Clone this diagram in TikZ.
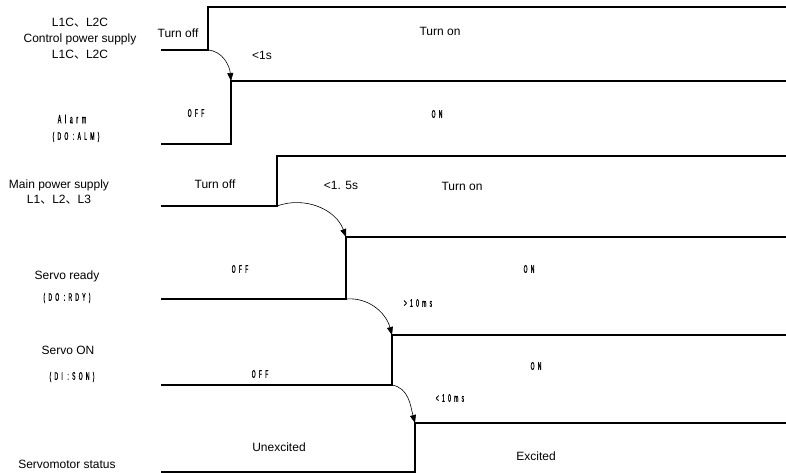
\documentclass[tikz,border=0pt]{standalone}
\usepackage{fontspec}
\setmainfont{Liberation Sans}
\newfontfamily\cjkfont{Noto Sans CJK SC}
\newfontfamily\narrowfont[FakeStretch=0.45,FakeBold=1,LetterSpace=30]{Liberation Sans}
\newcommand{\ideocomma}{{\cjkfont 、}}
\usepackage{tikz}
\usetikzlibrary{
	arrows.meta,
	positioning
}

\begin{document}
\begin{tikzpicture}[
		x=1pt, y=1pt,
		>={Triangle[length=8pt,width=6pt]},
		signal/.style={
			line width=1.8pt
		},
		delay/.style={
			->,
			line width=0.6pt
		},
		signame/.style={
			font=\fontsize{12}{16}\selectfont,
			align=center,
			inner sep=0pt
		},
		sigstate/.style={
			font=\narrowfont\fontsize{11}{12}\selectfont,
			inner sep=0pt
		}
		]
		
		\useasboundingbox (0,0) rectangle (786,-473);
		
		% Waveforms: name/low/high/edge
		\foreach \n/\lo/\hi/\e in {ctrl/50/7/208, alm/144/81/231, main/206/156/277,
			rdy/299/237/346, son/385/335/392, mot/472/423/415}
		{
			\coordinate (\n-lo) at (\e,-\lo);
			\coordinate (\n-hi) at (\e,-\hi);
			\coordinate (\n-start) at (161,-\lo);
			\coordinate (\n-end) at (786,-\hi);
			\draw[signal] (\n-start) -- (\n-lo) -- (\n-hi) -- (\n-end);
		}
		
		% Delays
		\draw[delay] (ctrl-lo) to[out=-5,in=95] (alm-hi);
		\draw[delay] (main-lo) to[out=20,in=110] (rdy-hi);
		\draw[delay] (rdy-lo) to[out=5,in=105] (son-hi);
		\draw[delay] (son-lo) to[out=-10,in=105] (mot-hi);
		
		% Control power supply
		\node[signame] (ctrl-name) at (80,-39) {L1C\ideocomma L2C\\Control power supply\\L1C\ideocomma L2C};
		\node[signame] (ctrl-off) at (178,-33) {Turn off};
		\node[signame] (ctrl-on) at (440,-31) {Turn on};
		\node[signame] (ctrl-t) at (262,-55) {<1s};
		
		% Alarm
		\node[sigstate, font=\narrowfont\fontsize{12}{13}\selectfont] (alm-name) at (72,-119) {Alarm};
		\node[sigstate] (alm-sig) at (76,-137) {(DO :ALM)};
		\node[sigstate] (alm-off) at (196,-113) {OFF};
		\node[sigstate] (alm-on) at (437,-114) {ON};
		
		% Main power supply
		\node[signame, font=\fontsize{12}{15}\selectfont] (main-name) at (59,-192) {Main power supply\\L1\ideocomma L2\ideocomma L3};
		\node[signame] (main-off) at (215,-184) {Turn off};
		\node[signame] (main-t) at (341,-185) {<1. 5s};
		\node[signame] (main-on) at (462,-186) {Turn on};
		
		% Servo ready
		\node[signame] (rdy-name) at (67,-276) {Servo ready};
		\node[sigstate] (rdy-sig) at (67,-298) {(DO :RDY)};
		\node[sigstate] (rdy-off) at (240,-269) {OFF};
		\node[sigstate] (rdy-on) at (529,-269) {ON};
		\node[sigstate] (rdy-t) at (418,-303) {>10ms};
		
		% Servo ON
		\node[signame] (son-name) at (68,-350) {Servo ON};
		\node[sigstate] (son-sig) at (72,-377) {(DI :SON)};
		\node[sigstate] (son-off) at (260,-374) {OFF};
		\node[sigstate] (son-on) at (536,-366) {ON};
		\node[sigstate] (son-t) at (450,-398) {<10ms};
		
		% Servomotor status
		\node[signame] (mot-name) at (67,-464) {Servomotor status};
		\node[signame] (mot-off) at (279,-447) {Unexcited};
		\node[signame] (mot-on) at (536,-456) {Excited};
		
	\end{tikzpicture}
\end{document}
